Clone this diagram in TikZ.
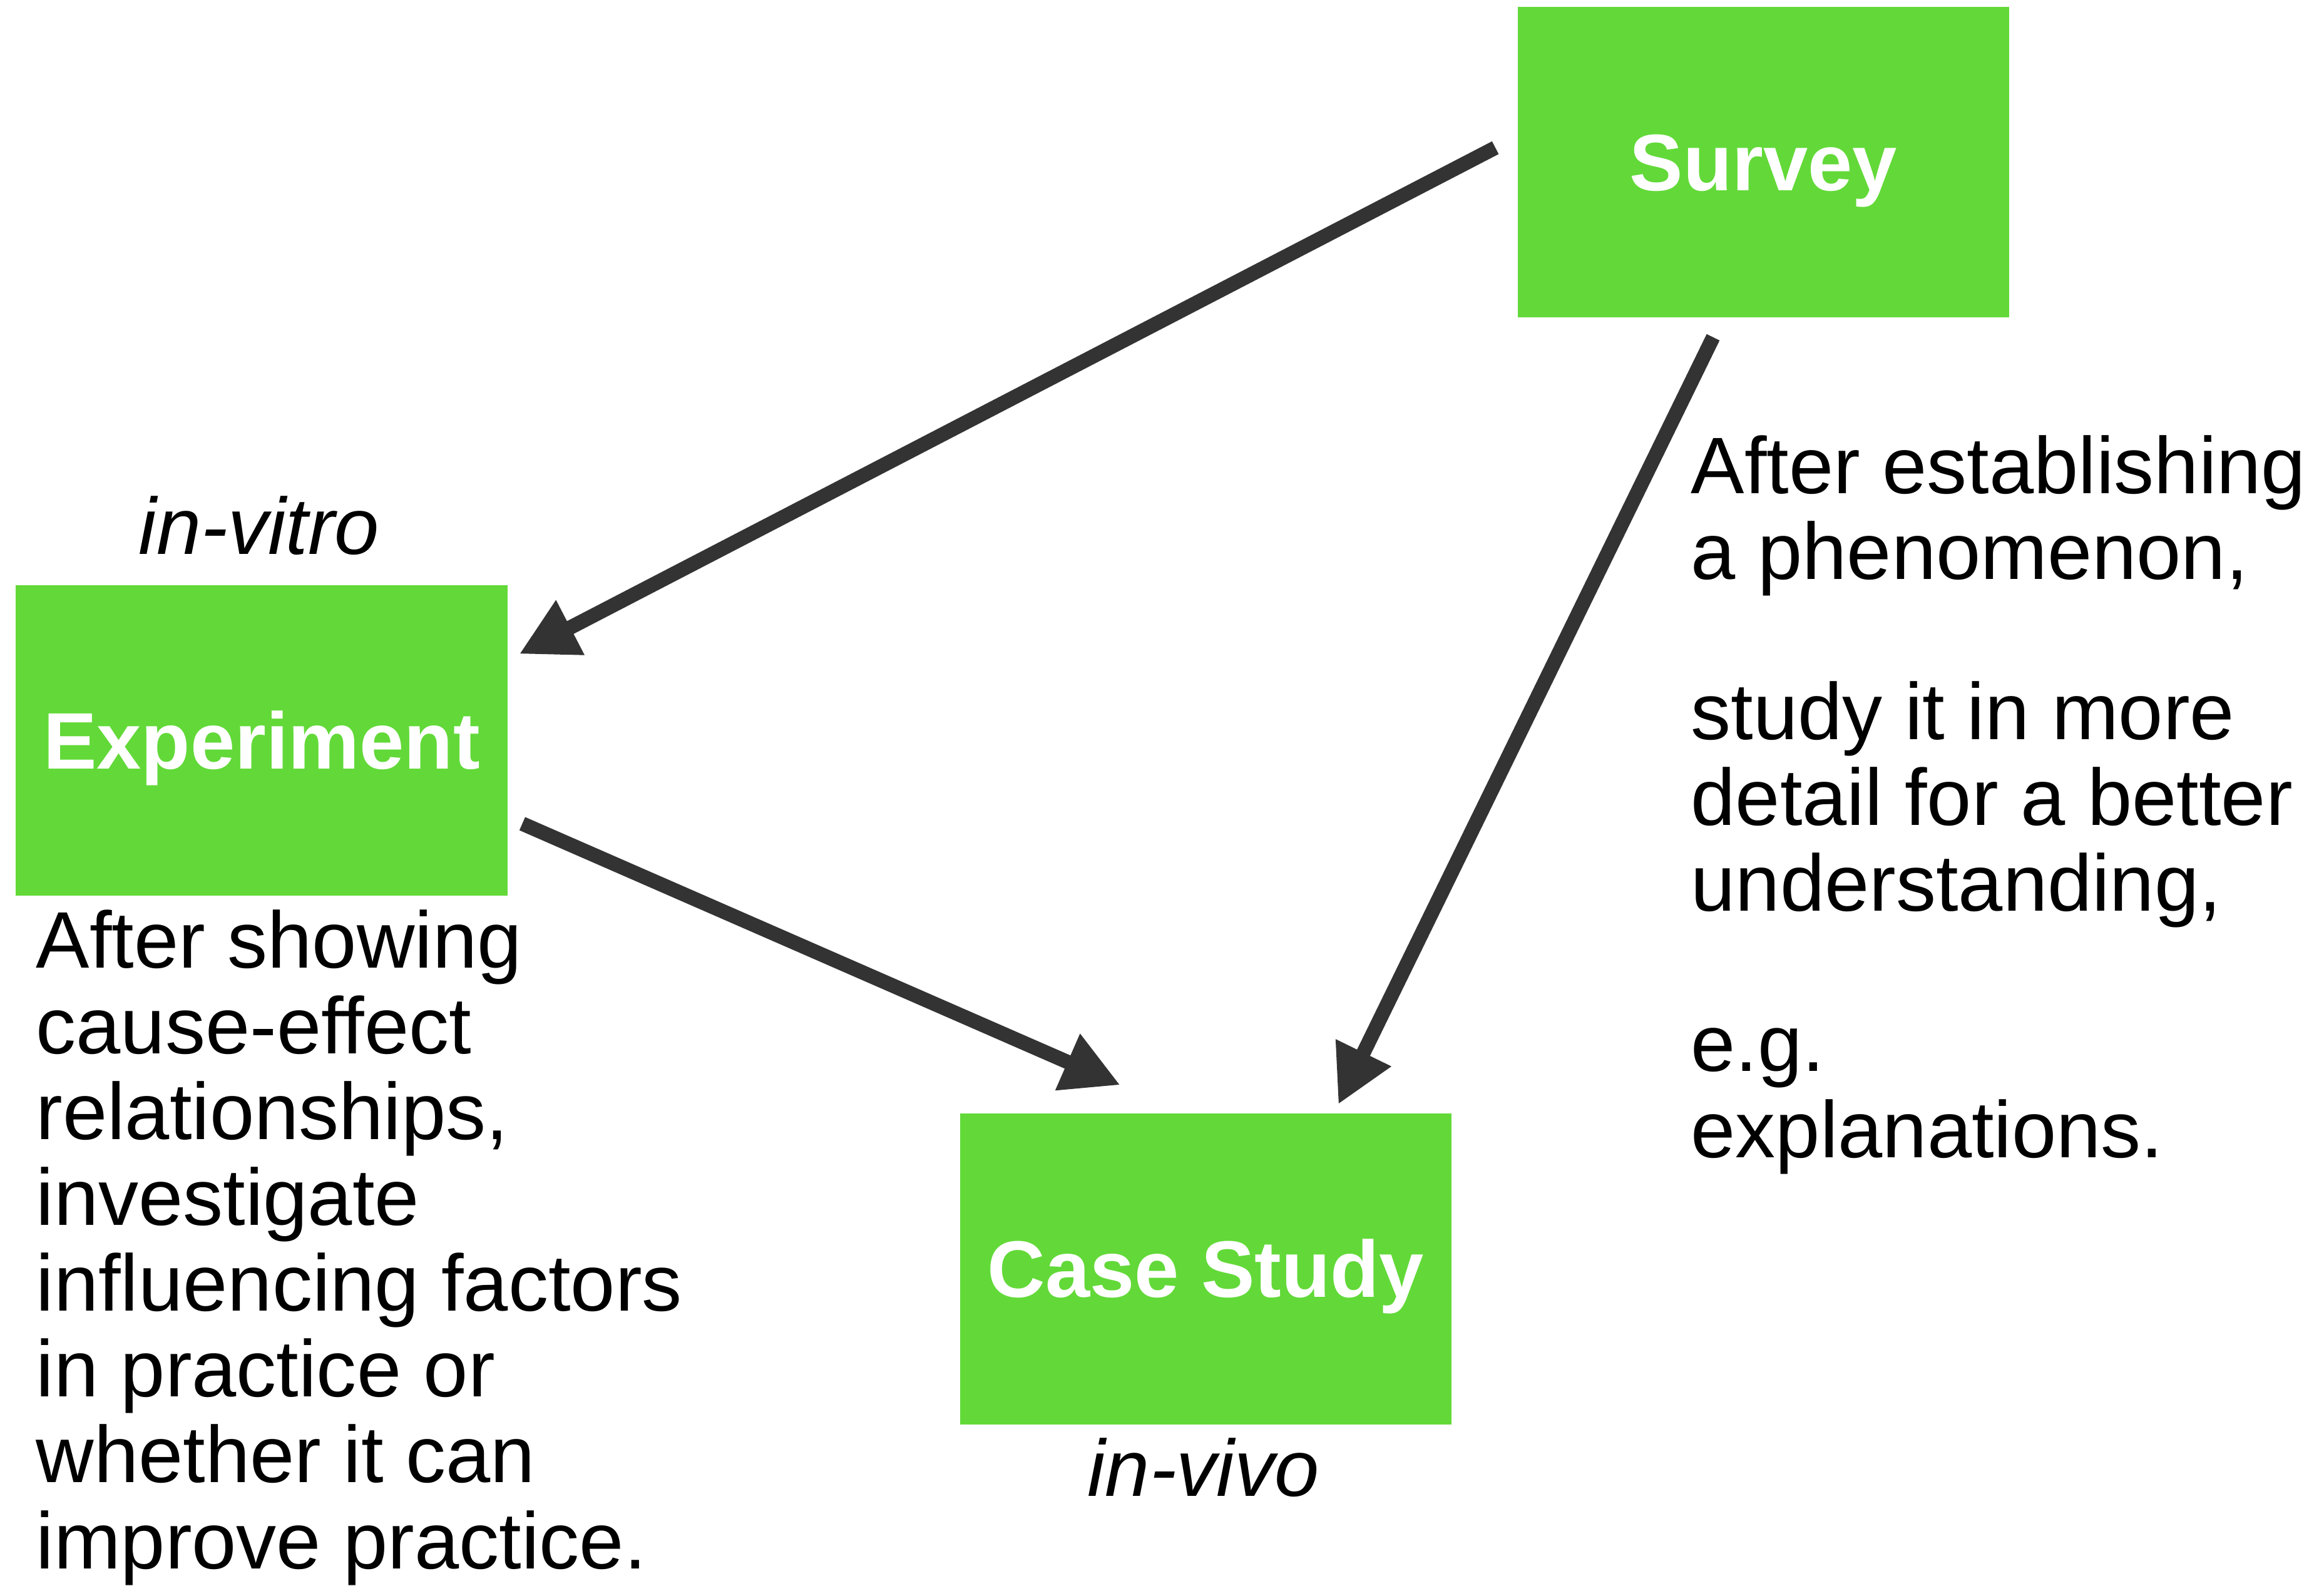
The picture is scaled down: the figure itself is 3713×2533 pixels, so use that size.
\documentclass[tikz,border=0pt]{standalone}
\usepackage{fontspec}
\setmainfont{Liberation Sans}
\usetikzlibrary{arrows.meta}
\definecolor{boxgreen}{RGB}{98,217,56}
\definecolor{arrowgray}{RGB}{51,51,51}
\newcommand\bodysize{\fontsize{36.42pt}{38.98pt}\selectfont}
\begin{document}
\begin{tikzpicture}[x=0.01cm,y=-0.01cm,
  method/.style={fill=boxgreen, text=white, font=\bodysize\bfseries,
    minimum width=7.85cm, minimum height=4.96cm, inner sep=0pt,
    text height=0.9cm, text depth=0pt},
  link/.style={draw=arrowgray, line width=0.23cm,
    -{Triangle[length=0.92cm,width=0.92cm]}},
  note/.style={font=\bodysize, align=left, inner sep=0pt, anchor=base west},
  setting/.style={font=\bodysize\itshape, inner sep=0pt, anchor=base}]
\useasboundingbox (0,0) rectangle (3713,2533);

% the three research methods
\node[method] (survey) at (2817.5,259) {Survey};
\node[method] (exp) at (418,1183) {Experiment};
\node[method] (case) at (1926.5,2027.5) {Case Study};

% settings under / above the boxes
\node[setting] (vitro) at ([shift={(-4,-49)}]exp.north) {in-vitro};
\node[setting] (vivo) at ([shift={(-4,114)}]case.south) {in-vivo};

% transitions between the methods
\draw[link] ([shift={(-35,-23)}]survey.west) -- ([shift={(18,-138)}]exp.east);
\draw[link] ([shift={(23,133)}]exp.east) -- ([shift={(-136.5,-45)}]case.north);
\draw[link] ([shift={(-80.5,31)}]survey.south) -- ([shift={(211.5,-14)}]case.north);

% explanations of the transitions (anchored at the baseline of the last line)
\node[note] (expnote) at (57,2506) {After showing\\
cause-effect\\
relationships,\\
investigate\\
influencing factors\\
in practice or\\
whether it can\\
improve practice.};
\node[note] (survnote) at (2701,1849) {After establishing\\
a phenomenon,\\[1.19cm]
study it in more\\
detail for a better\\
understanding,\\[1.19cm]
e.g.\\
explanations.};
\end{tikzpicture}
\end{document}
